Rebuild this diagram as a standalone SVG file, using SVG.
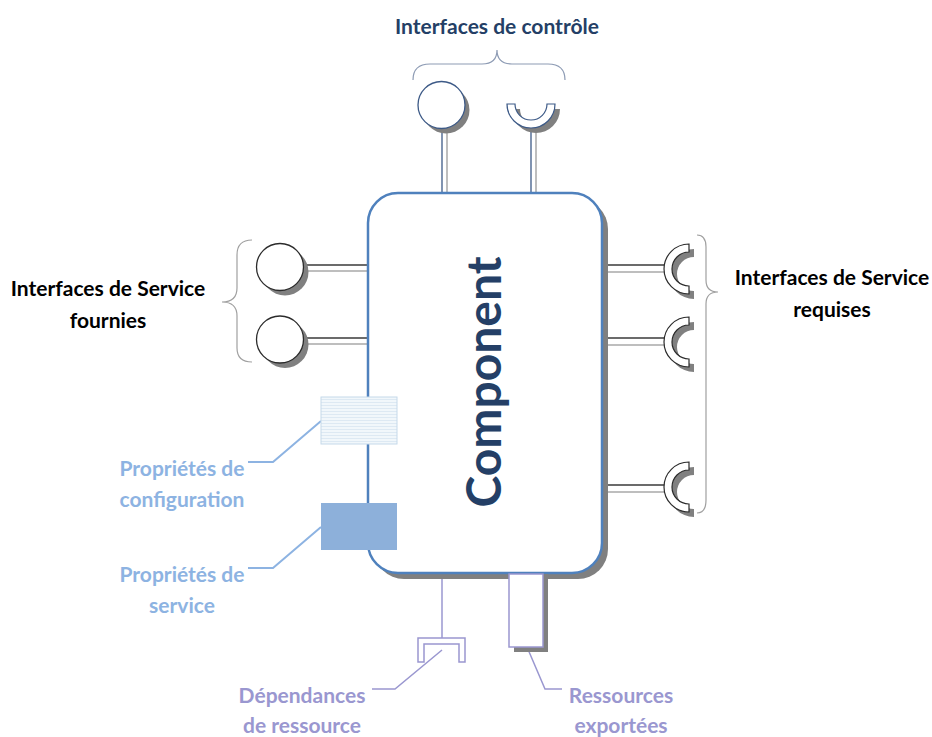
<svg xmlns="http://www.w3.org/2000/svg" width="932" height="737" viewBox="0 0 932 737">
<style>
text{font-family:Lato,"Open Sans","Liberation Sans",sans-serif;font-weight:bold;text-anchor:middle}
.lbl{font-size:21px;fill:#000}
.title{font-size:21px;fill:#243f66}
.cfg{font-size:21px;fill:#8db3e2}
.res{font-size:21px;fill:#9a97d0}
.shadow{fill:#808080}
.lolli{fill:#fff;stroke:#2b2b2b;stroke-width:1.3}
.lolliT{fill:#fff;stroke:#3d5a87;stroke-width:1.3}
.sock{fill:#fff;stroke:#2b2b2b;stroke-width:1.2}
.sockT{fill:#fff;stroke:#3d5a87;stroke-width:1.2}
.brace{fill:none;stroke:#a0a0a0;stroke-width:1.2}
.braceT{fill:none;stroke:#8d9bb4;stroke-width:1.2}
.dark{stroke:#3a3a3a;stroke-width:1.3}
.darkT{stroke:#3d5a87;stroke-width:1.3}
.grey{stroke:#a8a8a8;stroke-width:1.5}
.lead1{fill:none;stroke:#8db3e2;stroke-width:2}
.lead2{fill:none;stroke:#9a97d0;stroke-width:1.5}
</style>
<defs>
<pattern id="stripes" width="6" height="3" patternUnits="userSpaceOnUse">
<rect width="6" height="3" fill="#f1f7fb"/>
<rect width="6" height="1" fill="#dde9f3"/>
</pattern>
</defs>

<g id="connectors">
<line class="darkT" x1="442" y1="128" x2="442" y2="193"/>
<line class="grey" x1="447" y1="128" x2="447" y2="193"/>
<line class="darkT" x1="531" y1="128" x2="531" y2="193"/>
<line class="grey" x1="536" y1="128" x2="536" y2="193"/>
<line class="dark" x1="303" y1="265" x2="368" y2="265"/>
<line class="grey" x1="303" y1="271" x2="368" y2="271"/>
<line class="dark" x1="303" y1="338" x2="368" y2="338"/>
<line class="grey" x1="303" y1="344" x2="368" y2="344"/>
<line class="dark" x1="602" y1="265" x2="666" y2="265"/>
<line class="grey" x1="602" y1="272" x2="666" y2="272"/>
<line class="dark" x1="602" y1="338" x2="666" y2="338"/>
<line class="grey" x1="602" y1="345" x2="666" y2="345"/>
<line class="dark" x1="602" y1="485" x2="666" y2="485"/>
<line class="grey" x1="602" y1="492" x2="666" y2="492"/>
<line stroke="#9a97d0" stroke-width="1.5" x1="442" y1="574" x2="442" y2="638"/>
<polyline class="lead1" points="321,421 273,462 248,462"/>
<polyline class="lead1" points="321,527 273,568 248,568"/>
<polyline class="lead2" points="442,650 395,689 372,689"/>
<polyline class="lead2" points="527,647 545,689 562,689"/>
<path class="braceT" d="M413,80 Q413,64 430,64 L482,64 Q497,64 497,50 Q497,64 512,64 L548,64 Q565,64 565,80"/>
<path class="brace" d="M252,240 Q237,240 237,255 L237,288 Q237,302 222,302 Q237,302 237,316 L237,348 Q237,362 252,362"/>
<path class="brace" d="M697,235 Q706,235 706,247 L706,280 Q706,292 718,292 Q706,292 706,304 L706,500 Q706,513 697,513"/>
</g>

<g id="component">
<rect class="shadow" x="374" y="199" width="234" height="380" rx="30"/>
<rect x="368" y="193" width="234" height="380" rx="30" fill="#fff" stroke="#4f81bd" stroke-width="2.5"/>
<text x="0" y="0" transform="translate(501,382) rotate(-90)" style="font-size:48px;fill:#243f66">Component</text>
</g>

<g id="ctrl-provided">
<circle class="shadow" cx="446" cy="110" r="23.5"/>
<circle class="lolliT" cx="441.5" cy="105" r="23.5"/>
</g>
<g id="ctrl-required">
<path class="shadow" d="M512,109 A24,24 0 0 0 560,109 L552,109 A16,16 0 0 1 520,109 Z"/>
<path class="sockT" d="M507,104 A24,24 0 0 0 555,104 L547,104 A16,16 0 0 1 515,104 Z"/>
</g>

<g id="svc-provided-1">
<circle class="shadow" cx="285" cy="272" r="23.5"/>
<circle class="lolli" cx="280" cy="267" r="23.5"/>
</g>
<g id="svc-provided-2">
<circle class="shadow" cx="285" cy="344.5" r="23.5"/>
<circle class="lolli" cx="280" cy="339.5" r="23.5"/>
</g>

<g id="svc-required-1">
<path class="shadow" d="M694,249 A25,25 0 0 0 694,299 L694,291 A17,17 0 0 1 694,257 Z"/>
<path class="sock" d="M689,244 A25,25 0 0 0 689,294 L689,286 A17,17 0 0 1 689,252 Z"/>
</g>
<g id="svc-required-2">
<path class="shadow" d="M694,322 A25,25 0 0 0 694,372 L694,364 A17,17 0 0 1 694,330 Z"/>
<path class="sock" d="M689,317 A25,25 0 0 0 689,367 L689,359 A17,17 0 0 1 689,325 Z"/>
</g>
<g id="svc-required-3">
<path class="shadow" d="M694,467 A25,25 0 0 0 694,517 L694,509 A17,17 0 0 1 694,475 Z"/>
<path class="sock" d="M689,462 A25,25 0 0 0 689,512 L689,504 A17,17 0 0 1 689,470 Z"/>
</g>

<g id="config-props">
<rect x="321" y="397" width="76" height="47" fill="url(#stripes)" stroke="#c5d9ea" stroke-width="1"/>
</g>
<g id="service-props">
<rect x="321" y="503" width="76" height="47" fill="#8db0da"/>
</g>

<g id="resource-dependency">
<path d="M418,638 L465,638 L465,662 L459,662 L459,644 L424,644 L424,662 L418,662 Z" fill="#fff" stroke="#9a97d0" stroke-width="1.5"/>
</g>
<g id="exported-resources">
<rect class="shadow" x="514" y="574" width="34" height="78"/>
<rect x="509" y="574" width="34" height="73" fill="#fff" stroke="#9a97d0" stroke-width="1.5"/>
</g>

<g id="labels">
<text class="title" x="497" y="34">Interfaces de contrôle</text>
<text class="lbl" x="108" y="296">Interfaces de Service</text>
<text class="lbl" x="108" y="328">fournies</text>
<text class="lbl" x="832" y="285">Interfaces de Service</text>
<text class="lbl" x="832" y="317">requises</text>
<text class="cfg" x="182" y="476">Propriétés de</text>
<text class="cfg" x="182" y="507">configuration</text>
<text class="cfg" x="182" y="582">Propriétés de</text>
<text class="cfg" x="182" y="613">service</text>
<text class="res" x="302" y="703">Dépendances</text>
<text class="res" x="302" y="733">de ressource</text>
<text class="res" x="621" y="703">Ressources</text>
<text class="res" x="621" y="733">exportées</text>
</g>
</svg>
